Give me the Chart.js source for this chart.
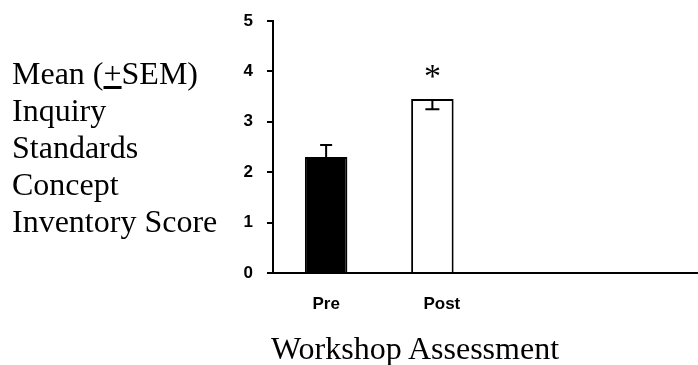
<!DOCTYPE html>
<html>
<head>
<meta charset="utf-8">
<script src="https://cdn.jsdelivr.net/npm/chart.js@4.4.0/dist/chart.umd.min.js"></script>
<style>
    body { margin: 0; background: #fff; }
    .wrap { position: relative; width: 698px; height: 365px; overflow: hidden; }
    .yLabel {
        position: absolute; left: 12px; top: 55px;
        font-family: "Liberation Serif", "Times New Roman", serif;
        font-size: 32px; line-height: 37px; color: #000; white-space: nowrap;
    }
    .xLabel {
        position: absolute; left: 415px; top: 330px; transform: translateX(-50%);
        font-family: "Liberation Serif", "Times New Roman", serif;
        font-size: 32px; line-height: 37px; color: #000; white-space: nowrap;
    }
</style>
</head>
<body>
<div class="wrap">
    <canvas id="chart" width="698" height="365"></canvas>
    <div class="yLabel">Mean (<u>+</u>SEM)<br>Inquiry<br>Standards<br>Concept<br>Inventory Score</div>
    <div class="xLabel">Workshop Assessment</div>
</div>
<script>
// Data
const categories = ['Pre', 'Post', '', ''];
const meanScores = [2.30, 3.45, null, null];
const semUp = [0.24, 0, 0, 0];
const semDown = [0, 0.20, 0, 0];
const significance = ['', '*', '', ''];
const yTicks = [0, 1, 2, 3, 4, 5];

// the Post label sits a little right of its bar in the original
const labelPad = ['', '    ', '', ''];

// Draws error bars and the significance mark
const errorBarPlugin = {
    id: 'errorBars',
    afterDatasetsDraw(chart) {
        const ctx = chart.ctx;
        const yScale = chart.scales.y;
        const meta = chart.getDatasetMeta(0);
        ctx.save();
        ctx.strokeStyle = '#000';
        ctx.lineWidth = 2;
        meta.data.forEach((bar, i) => {
            const v = meanScores[i];
            if (v === null) return;
            const x = bar.x;
            const yTop = yScale.getPixelForValue(v);
            if (semUp[i] > 0) {
                const yUp = yScale.getPixelForValue(v + semUp[i]);
                ctx.beginPath();
                ctx.moveTo(x, yTop);
                ctx.lineTo(x, yUp);
                ctx.moveTo(x - 6, yUp);
                ctx.lineTo(x + 6, yUp);
                ctx.stroke();
            }
            if (semDown[i] > 0) {
                const yDown = yScale.getPixelForValue(v - semDown[i]);
                ctx.beginPath();
                ctx.moveTo(x, yTop);
                ctx.lineTo(x, yDown);
                ctx.moveTo(x - 7, yDown);
                ctx.lineTo(x + 7, yDown);
                ctx.stroke();
            }
            if (significance[i]) {
                ctx.fillStyle = '#000';
                ctx.font = '34px "Liberation Serif", serif';
                ctx.textAlign = 'center';
                ctx.textBaseline = 'alphabetic';
                ctx.fillText(significance[i], x, yScale.getPixelForValue(v + semUp[i]) - 12);
            }
        });
        ctx.restore();
    }
};

new Chart(document.getElementById('chart').getContext('2d'), {
    type: 'bar',
    data: {
        labels: categories,
        datasets: [{
            data: meanScores,
            backgroundColor: ['#000', '#fff', '#fff', '#fff'],
            borderColor: '#000',
            borderWidth: 2,
            barPercentage: 0.4,
            categoryPercentage: 1.0
        }]
    },
    options: {
        responsive: false,
        animation: false,
        layout: { padding: { top: 21, right: 0, left: 0, bottom: 0 } },
        plugins: {
            legend: { display: false },
            tooltip: { enabled: false }
        },
        scales: {
            x: {
                grid: { display: false },
                border: { display: true, color: '#000', width: 2 },
                ticks: {
                    color: '#000',
                    padding: 13,
                    font: { family: '"Liberation Sans", Arial, sans-serif', size: 17, weight: 'bold' },
                    callback(value, index) { return labelPad[index] + categories[index]; }
                },
                afterFit(scale) {
                    scale.height = 92;
                    scale.paddingLeft = 0;
                    scale.paddingRight = 0;
                }
            },
            y: {
                min: 0,
                max: 5,
                afterBuildTicks(scale) { scale.ticks = yTicks.map(v => ({ value: v })); },
                grid: { drawOnChartArea: false, drawTicks: true, tickLength: 6, color: '#000', lineWidth: 2 },
                border: { display: true, color: '#000', width: 2 },
                ticks: {
                    color: '#000',
                    padding: 14,
                    font: { family: '"Liberation Sans", Arial, sans-serif', size: 17, weight: 'bold' }
                },
                afterFit(scale) {
                    scale.width = 273;
                    scale.paddingTop = 0;
                    scale.paddingBottom = 0;
                }
            }
        }
    },
    plugins: [errorBarPlugin]
});
</script>
</body>
</html>
